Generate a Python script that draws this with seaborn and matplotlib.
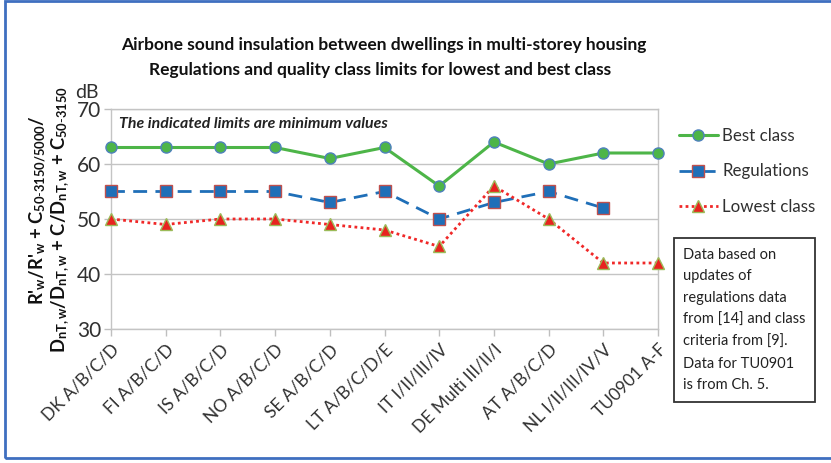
import numpy as np
import pandas as pd
import matplotlib
matplotlib.use("Agg")
import matplotlib.pyplot as plt
import matplotlib.patches as mpatches
import seaborn as sns

categories = ["DK A/B/C/D", "FI A/B/C/D", "IS A/B/C/D", "NO A/B/C/D", "SE A/B/C/D",
              "LT A/B/C/D/E", "IT I/II/III/IV", "DE Multi III/II/I", "AT A/B/C/D",
              "NL I/II/III/IV/V", "TU0901 A-F"]
best_class = [63, 63, 63, 63, 61, 63, 56, 64, 60, 62, 62]
regulations = [55, 55, 55, 55, 53, 55, 50, 53, 55, 52, np.nan]
lowest_class = [50, 49, 50, 50, 49, 48, 45, 56, 50, 42, 42]
y_ticks = [30, 40, 50, 60, 70]

sns.set_theme(style="white")
plt.rcParams["font.family"] = ["Lato", "DejaVu Sans"]
plt.rcParams["mathtext.fontset"] = "custom"
plt.rcParams["mathtext.rm"] = "Lato"
plt.rcParams["mathtext.bf"] = "Lato:bold"
plt.rcParams["mathtext.it"] = "Lato:italic"

df = pd.DataFrame({"cat": categories, "best": best_class,
                   "reg": regulations, "low": lowest_class})

fig = plt.figure(figsize=(8.31, 4.63), dpi=100)
ax = fig.add_axes([111/831, 1-329/463, (658-111)/831, (329-109)/463])

green = "#4DB548"
blue = "#1F6FB8"
red = "#F02828"

sns.lineplot(data=df, x="cat", y="best", ax=ax, sort=False, color=green, lw=2.2,
             marker="o", markersize=8, markerfacecolor=green, markeredgecolor="#4F81BD",
             markeredgewidth=1.0, label="Best class", clip_on=False, zorder=5)
sns.lineplot(data=df.dropna(), x="cat", y="reg", ax=ax, sort=False, color=blue, lw=2.0,
             linestyle=(0, (5, 3)), marker="s", markersize=8, markerfacecolor=blue,
             markeredgecolor="#C0504D", markeredgewidth=1.0, label="Regulations",
             clip_on=False, zorder=5)
sns.lineplot(data=df, x="cat", y="low", ax=ax, sort=False, color=red, lw=2.0,
             linestyle=(0, (1, 1.2)), marker="^", markersize=8, markerfacecolor="#E8231F",
             markeredgecolor="#9BBB59", markeredgewidth=1.0, label="Lowest class",
             clip_on=False, zorder=5)

ax.set_xlim(0, len(categories) - 1)
ax.set_ylim(30, 70)
ax.set_yticks(y_ticks)
ax.set_xticks(range(len(categories)))
ax.set_xticklabels(categories, rotation=45, ha="right", va="top",
                   rotation_mode="anchor", fontsize=12.5, color="#303030")
ax.tick_params(axis="y", labelsize=15, colors="#303030", length=5, width=1,
               color="#BFBFBF", pad=2, left=True)
ax.tick_params(axis="x", length=5, width=1, color="#BFBFBF", pad=4, bottom=True)
ax.set_xlabel("")
ax.set_ylabel("")
ax.yaxis.grid(True, color="#C4C4C4", lw=1)
ax.xaxis.grid(False)
for s in ax.spines.values():
    s.set_color("#C4C4C4")
    s.set_linewidth(1)

ax.text(0.015, 0.93, "The indicated limits are minimum values", transform=ax.transAxes,
        fontsize=11.4, fontweight="bold", fontstyle="italic", color="#222222",
        ha="left", va="center")

leg = ax.legend(loc="upper left", bbox_to_anchor=(679/831, 1-128/463),
                bbox_transform=fig.transFigure, frameon=False, fontsize=12.2,
                handlelength=2.3, labelspacing=1.15, handletextpad=0.25,
                borderaxespad=0, borderpad=0)
for t in leg.get_texts():
    t.set_color("#303030")

fig.text(384/831, 1-45/463, "Airbone sound insulation between dwellings in multi-storey housing",
         ha="center", va="center", fontsize=12.5, fontweight="bold", color="#111111")
fig.text(380/831, 1-70/463, "Regulations and quality class limits for lowest and best class",
         ha="center", va="center", fontsize=12.5, fontweight="bold", color="#111111")
fig.text(87/831, 1-93/463, "dB", ha="center", va="center", fontsize=14, color="#303030")

fig.text(38/831, 1-210/463,
         r"R'$_{\mathbf{w}}$/R'$_{\mathbf{w}}$ + C$_{\mathbf{50\text{-}3150/5000}}$/",
         rotation=90, ha="center", va="center", fontsize=13.2, fontweight="bold",
         color="#111111")
fig.text(61/831, 1-220/463,
         r"D$_{\mathbf{nT,w}}$/D$_{\mathbf{nT,w}}$ + C/D$_{\mathbf{nT,w}}$ + C$_{\mathbf{50\text{-}3150}}$",
         rotation=90, ha="center", va="center", fontsize=13.2, fontweight="bold",
         color="#111111")

fig.text(683/831, 1-320/463,
         "Data based on\nupdates of\nregulations data\nfrom [14] and class\ncriteria from [9].\nData for TU0901\nis from Ch. 5.",
         ha="left", va="center", fontsize=10.5, color="#222222", linespacing=1.7,
         bbox=dict(boxstyle="square,pad=0.65", facecolor="white", edgecolor="#333333", lw=1.3))

border = mpatches.Rectangle((5/831, 1-458/463), 1.2, (457)/463, transform=fig.transFigure,
                            fill=False, edgecolor="#3F6FC0", lw=2, clip_on=False)
fig.patches.append(border)

fig.savefig("out.png", dpi=100)
